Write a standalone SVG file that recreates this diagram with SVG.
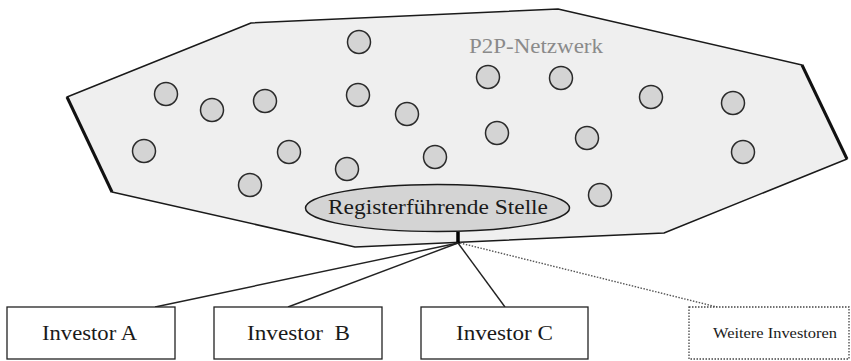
<svg xmlns="http://www.w3.org/2000/svg" width="851" height="361" viewBox="0 0 851 361">
<style>
.serif{font-family:"Liberation Serif","Times New Roman",serif;fill:#1a1a1a}
.peer{fill:#d4d4d4;stroke:#2a2a2a;stroke-width:1.5}
.box{fill:#ffffff;stroke:#222;stroke-width:1.3}
.link{stroke:#222;stroke-width:1.4;fill:none}
</style>
<rect width="851" height="361" fill="#ffffff"/>
<g id="network">
<polygon points="67,97 251,23 558,9 802,65 847,159 664,233 355,247 112,192" fill="#efefef" stroke="#1a1a1a" stroke-width="1.5" stroke-linejoin="round"/>
<line x1="67" y1="97" x2="112" y2="192" stroke="#111" stroke-width="3"/>
<line x1="802" y1="65" x2="847" y2="159" stroke="#111" stroke-width="3"/>
<text class="serif" x="469" y="53" font-size="21" fill="#8a8a8a" style="fill:#8a8a8a" textLength="134" lengthAdjust="spacingAndGlyphs">P2P-Netzwerk</text>
</g>
<g id="peers">
<circle class="peer" cx="359" cy="42" r="11.5"/>
<circle class="peer" cx="166" cy="94" r="11.5"/>
<circle class="peer" cx="212" cy="110" r="11.5"/>
<circle class="peer" cx="265" cy="101" r="11.5"/>
<circle class="peer" cx="358" cy="95" r="11.5"/>
<circle class="peer" cx="407" cy="114" r="11.5"/>
<circle class="peer" cx="488" cy="77" r="11.5"/>
<circle class="peer" cx="561" cy="78" r="11.5"/>
<circle class="peer" cx="651" cy="97" r="11.5"/>
<circle class="peer" cx="733" cy="103" r="11.5"/>
<circle class="peer" cx="144" cy="151" r="11.5"/>
<circle class="peer" cx="289" cy="152" r="11.5"/>
<circle class="peer" cx="347" cy="169" r="11.5"/>
<circle class="peer" cx="435" cy="157" r="11.5"/>
<circle class="peer" cx="497" cy="133" r="11.5"/>
<circle class="peer" cx="587" cy="138" r="11.5"/>
<circle class="peer" cx="743" cy="152" r="11.5"/>
<circle class="peer" cx="250" cy="185" r="11.5"/>
<circle class="peer" cx="600" cy="195" r="11.5"/>
</g>
<g id="connectors">
<line x1="458" y1="232" x2="458" y2="244" stroke="#000" stroke-width="3.5"/>
<line class="link" x1="458" y1="243" x2="155" y2="307"/>
<line class="link" x1="458" y1="243" x2="288" y2="307"/>
<line class="link" x1="458" y1="243" x2="505" y2="307"/>
<line x1="460" y1="243" x2="717" y2="307" stroke="#555" stroke-width="1.4" stroke-dasharray="1.5,1.5"/>
</g>
<g id="registry">
<ellipse cx="437.5" cy="208" rx="132" ry="23.5" fill="#d4d4d4" stroke="#1a1a1a" stroke-width="1.5"/>
<text class="serif" x="438" y="214" font-size="22" text-anchor="middle" textLength="220" lengthAdjust="spacingAndGlyphs">Registerführende Stelle</text>
</g>
<g id="investor-a">
<rect class="box" x="7" y="307" width="168" height="52"/>
<text class="serif" x="42" y="340" font-size="22" textLength="95" lengthAdjust="spacingAndGlyphs">Investor A</text>
</g>
<g id="investor-b">
<rect class="box" x="214" y="307" width="168" height="52"/>
<text class="serif" x="247" y="340" font-size="22" textLength="103" lengthAdjust="spacingAndGlyphs" xml:space="preserve">Investor  B</text>
</g>
<g id="investor-c">
<rect class="box" x="421" y="307" width="167" height="52"/>
<text class="serif" x="456" y="340" font-size="22" textLength="97" lengthAdjust="spacingAndGlyphs">Investor C</text>
</g>
<g id="weitere">
<rect x="689" y="307" width="160" height="52" fill="#ffffff" stroke="#444" stroke-width="1.3" stroke-dasharray="1.5,1.5"/>
<text class="serif" x="713" y="338" font-size="14" textLength="124" lengthAdjust="spacingAndGlyphs">Weitere Investoren</text>
</g>
</svg>
